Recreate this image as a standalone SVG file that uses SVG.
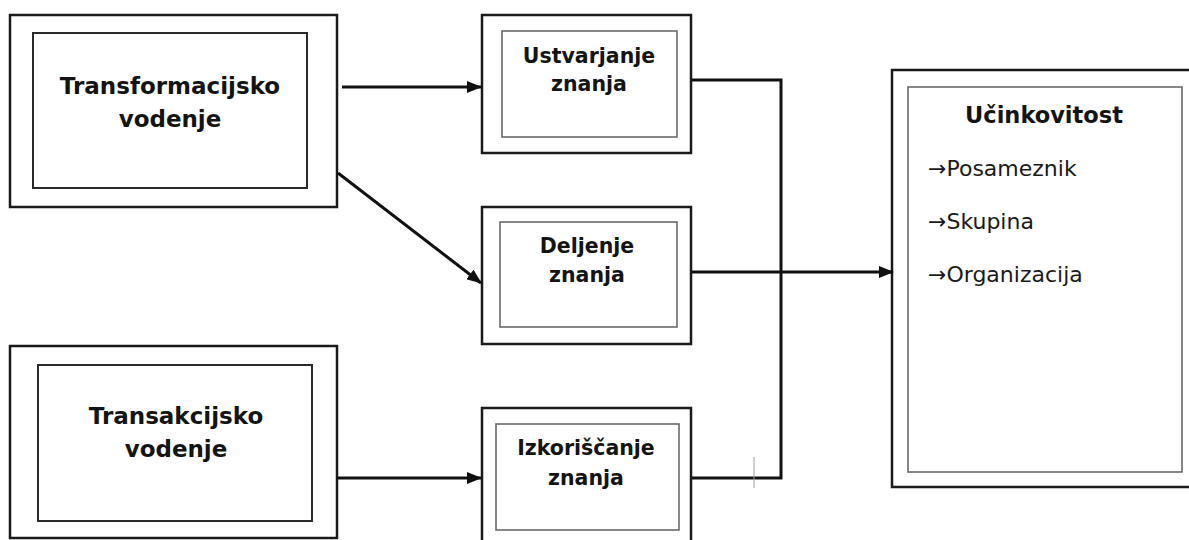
<svg xmlns="http://www.w3.org/2000/svg" width="1189" height="540" viewBox="0 0 1189 540">
  <style>
    .outer { fill: none; stroke: #1a1a1a; stroke-width: 2.5; }
    .inner { fill: none; stroke: #2a2a2a; stroke-width: 2; }
    .inner-light { fill: none; stroke: #6a6a6a; stroke-width: 1.6; }
    .title { font-family: "DejaVu Sans", Verdana, sans-serif; font-weight: bold; font-size: 23px; fill: #141414; text-anchor: middle; }
    .head { font-family: "DejaVu Sans", Verdana, sans-serif; font-weight: bold; font-size: 22.5px; fill: #141414; text-anchor: middle; }
    .mid { font-family: "DejaVu Sans", Verdana, sans-serif; font-weight: bold; font-size: 20.5px; fill: #141414; text-anchor: middle; }
    .item { font-family: "DejaVu Sans", Verdana, sans-serif; font-size: 22px; fill: #1a1a1a; }
    .link { fill: none; stroke: #111; stroke-width: 3; }
  </style>
  <defs>
    <marker id="arrow" viewBox="0 0 15 12" refX="14" refY="6" markerWidth="15" markerHeight="12" markerUnits="userSpaceOnUse" orient="auto">
      <path d="M0,0 L15,6 L0,12 z" fill="#111"/>
    </marker>
  </defs>
  <rect width="1189" height="540" fill="#ffffff"/>

  <g id="transformacijsko">
    <rect class="outer" x="10" y="15" width="327" height="192"/>
    <rect class="inner" x="33" y="33" width="274" height="155"/>
    <text class="title" x="170" y="94">Transformacijsko</text>
    <text class="title" x="170" y="127">vodenje</text>
  </g>

  <g id="transakcijsko">
    <rect class="outer" x="10" y="346" width="327" height="192"/>
    <rect class="inner" x="38" y="365" width="274" height="156"/>
    <text class="title" x="176" y="424">Transakcijsko</text>
    <text class="title" x="176" y="457">vodenje</text>
  </g>

  <g id="ustvarjanje">
    <rect class="outer" x="482" y="15" width="209" height="138"/>
    <rect class="inner-light" x="502" y="31" width="175" height="106"/>
    <text class="mid" x="589" y="63">Ustvarjanje</text>
    <text class="mid" x="589" y="91">znanja</text>
  </g>

  <g id="deljenje">
    <rect class="outer" x="482" y="207" width="209" height="137"/>
    <rect class="inner-light" x="500" y="222" width="177" height="105"/>
    <text class="mid" x="587" y="253">Deljenje</text>
    <text class="mid" x="587" y="282">znanja</text>
  </g>

  <g id="izkoriscanje">
    <rect class="outer" x="482" y="408" width="209" height="140"/>
    <rect class="inner-light" x="496" y="424" width="183" height="106"/>
    <text class="mid" x="586" y="455">Izkoriščanje</text>
    <text class="mid" x="586" y="485">znanja</text>
  </g>

  <g id="ucinkovitost">
    <rect class="outer" x="892" y="70" width="310" height="417"/>
    <rect class="inner-light" x="908" y="87" width="274" height="385"/>
    <text class="head" x="1044" y="123">Učinkovitost</text>
    <text class="item" x="928" y="176">→Posameznik</text>
    <text class="item" x="928" y="229">→Skupina</text>
    <text class="item" x="928" y="282">→Organizacija</text>
  </g>

  <g id="connectors">
    <line class="link" x1="342" y1="87" x2="481" y2="87" marker-end="url(#arrow)"/>
    <line class="link" x1="338" y1="173" x2="481" y2="283" marker-end="url(#arrow)"/>
    <line class="link" x1="338" y1="478" x2="481" y2="478" marker-end="url(#arrow)"/>
    <polyline class="link" points="692,80 781,80 781,478 692,478"/>
    <line class="link" x1="692" y1="272" x2="893" y2="272" marker-end="url(#arrow)"/>
    <line x1="754" y1="457" x2="754" y2="488" stroke="#9a9a9a" stroke-width="1"/>
  </g>
</svg>
